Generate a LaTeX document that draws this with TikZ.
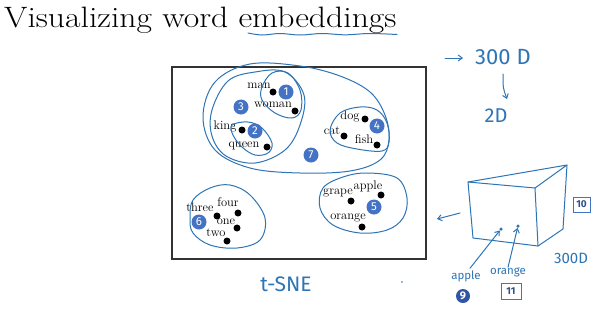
\documentclass[tikz,border=0pt]{standalone}
\usepackage{fontspec}
\newfontfamily\hand{Fira Sans}
\usetikzlibrary{arrows.meta}
\definecolor{pen}{HTML}{2E75B6}
\definecolor{badge}{HTML}{4472C4}
\definecolor{badgedark}{HTML}{2F55A4}
\definecolor{frame}{HTML}{333333}
\begin{document}
\begin{tikzpicture}[x=1pt,y=-1pt,
  lbl/.style={font=\fontsize{12.5}{14}\selectfont, inner sep=0pt},
  pt/.style={circle, fill=black, inner sep=0pt, minimum size=7pt},
  num/.style={circle, fill=badge, text=white, inner sep=0pt, minimum size=15pt, font=\hand\fontsize{11.5}{12}\selectfont},
  penline/.style={draw=pen, line width=1pt, line cap=round, line join=round},
  handtxt/.style={text=pen, inner sep=0pt},
  sqbox/.style={draw=badge, line width=1pt, fill=white, text=badge!70!black, inner sep=0pt, font=\hand\bfseries\fontsize{10}{12}\selectfont},
  barb/.style={-{Straight Barb[length=4pt,width=6pt]}}
]
\fill[white] (0,0) rectangle (600,309);
\useasboundingbox (0,0) rectangle (600,309);

% title
\node[anchor=base west, inner sep=0pt, font=\fontsize{29.5}{35}\selectfont] (title) at (4,27) {\scalebox{1.14}[1]{Visualizing word embeddings}};
\draw[penline] plot[smooth, tension=0.6] coordinates {(248,33) (262,35) (280,33.5) (300,35) (322,33.5) (345,34.8) (370,33.5) (397,34.5)};

% frame
\draw[frame, line width=1.8pt] (172,67) rectangle (426,259);

% dots
\node[pt] (man) at (273,92) {};
\node[pt] (woman) at (295,111) {};
\node[pt] (king) at (242,130) {};
\node[pt] (queen) at (267,147) {};
\node[pt] (dog) at (365,119) {};
\node[pt] (cat) at (344,136) {};
\node[pt] (fish) at (377,145) {};
\node[pt] (apple) at (381,195) {};
\node[pt] (grape) at (351,201) {};
\node[pt] (orange) at (362,227) {};
\node[pt] (three) at (217,216) {};
\node[pt] (four) at (238,213) {};
\node[pt] (one) at (237,228) {};
\node[pt] (two) at (227,241) {};

% labels
\node[lbl] (lman) at (259,86) {man};
\node[lbl] (lwoman) at (273,105) {woman};
\node[lbl] (lking) at (225,126) {king};
\node[lbl] (lqueen) at (244,146) {queen};
\node[lbl] (ldog) at (350,116) {dog};
\node[lbl] (lcat) at (332,131) {cat};
\node[lbl] (lfish) at (364,139) {fish};
\node[lbl] (lapple) at (368,186) {apple};
\node[lbl] (lgrape) at (338,193) {grape};
\node[lbl] (lorange) at (348,218) {orange};
\node[lbl] (lthree) at (200,207) {three};
\node[lbl] (lfour) at (228,202) {four};
\node[lbl] (lone) at (226,222) {one};
\node[lbl] (ltwo) at (216,233) {two};

% loops
\draw[penline] plot[smooth cycle, tension=0.6] coordinates {(203,117) (215,82) (250,64) (300,66) (340,76) (370,92) (385,115) (389,140) (380,160) (350,171) (300,173) (250,168) (215,150)};
\draw[penline] plot[smooth cycle, tension=0.6] coordinates {(212,110) (228,81) (255,72) (285,72) (304,95) (300,125) (285,150) (255,163) (226,156) (212,136)};
\draw[penline] plot[smooth cycle, tension=0.6] coordinates {(262,87) (272,73) (288,73) (300,90) (301,110) (292,118) (275,113) (262,100)};
\draw[penline] plot[smooth cycle, tension=0.6] coordinates {(232,125) (248,122) (262,128) (272,143) (268,153) (255,155) (242,147) (233,135)};
\draw[penline] plot[smooth cycle, tension=0.6] coordinates {(330,130) (340,113) (360,107) (377,110) (387,123) (389,142) (382,151) (357,149) (337,143)};
\draw[penline] plot[smooth cycle, tension=0.6] coordinates {(320,208) (323,188) (343,177) (367,173) (397,178) (407,198) (403,218) (387,230) (360,233) (333,225)};
\draw[penline] plot[smooth cycle, tension=0.6] coordinates {(190,218) (193,200) (210,188) (230,185) (250,195) (265,218) (260,240) (237,248) (210,245) (193,233)};

% badges
\node[num] (n1) at (286,92) {1};
\node[num] (n3) at (241,107) {3};
\node[num] (n2) at (255,131) {2};
\node[num] (n7) at (311,155) {7};
\node[num] (n4) at (377,126) {4};
\node[num] (n5) at (374,207) {5};
\node[num] (n6) at (199,222) {6};

% t-SNE
\node[handtxt, font=\hand\fontsize{21}{24}\selectfont] (tsne) at (286,284) {t-SNE};
\fill[pen] (402,282) circle (0.8pt);

% 300D -> 2D
\coordinate (arrs) at (445,58);
\coordinate (arre) at (463,58);
\node[handtxt, font=\hand\fontsize{22}{26}\selectfont] (d300) at (503,57) {300 D};
\draw[penline, barb] (arrs) -- (arre);
\node[handtxt, font=\hand\fontsize{20}{24}\selectfont] (d2) at (496,116) {2D};
\coordinate (dn1) at (503,74);
\coordinate (dn2) at (507,99);
\draw[penline, barb] (dn1) .. controls (503,88) .. (dn2);

% cube
\coordinate (ftl) at (468,182);
\coordinate (ftr) at (535,188);
\coordinate (fbr) at (538,246);
\coordinate (fbl) at (473,238);
\coordinate (btr) at (567,165);
\coordinate (bbr) at (563,229);
\draw[penline] (ftl) -- (ftr) -- (fbr) -- (fbl) -- cycle;
\draw[penline] (ftl) -- (btr) -- (ftr);
\draw[penline] (btr) -- (bbr) -- (fbr);
\node[handtxt, font=\hand\fontsize{15}{18}\selectfont] (c300) at (571,258) {300D};
\node[sqbox, minimum width=17pt, minimum height=15pt] (b10) at (581.5,204.5) {10};

% left arrow
\coordinate (la1) at (460,213);
\coordinate (la2) at (437,219);
\draw[penline, barb] (la1) -- (la2);

% apple / orange in cube
\node[circle, fill=pen, inner sep=0pt, minimum size=3.5pt] (capple) at (501,229) {};
\node[circle, fill=pen, inner sep=0pt, minimum size=3.5pt] (corange) at (518,226) {};
\node[handtxt, font=\hand\fontsize{11.5}{13}\selectfont] (happle) at (466,276) {apple};
\node[handtxt, font=\hand\fontsize{11.5}{13}\selectfont] (horange) at (508,272) {orange};
\draw[penline, barb] (happle.north) ++(4,-2) -- (capple);
\draw[penline, barb] (horange.north) -- (corange);
\node[circle, fill=badgedark, text=white, inner sep=0pt, minimum size=14pt, font=\hand\bfseries\fontsize{11}{12}\selectfont] (n9) at (463,296) {9};
\node[sqbox, minimum width=20pt, minimum height=16pt] (b11) at (511,291) {11};
\end{tikzpicture}
\end{document}
